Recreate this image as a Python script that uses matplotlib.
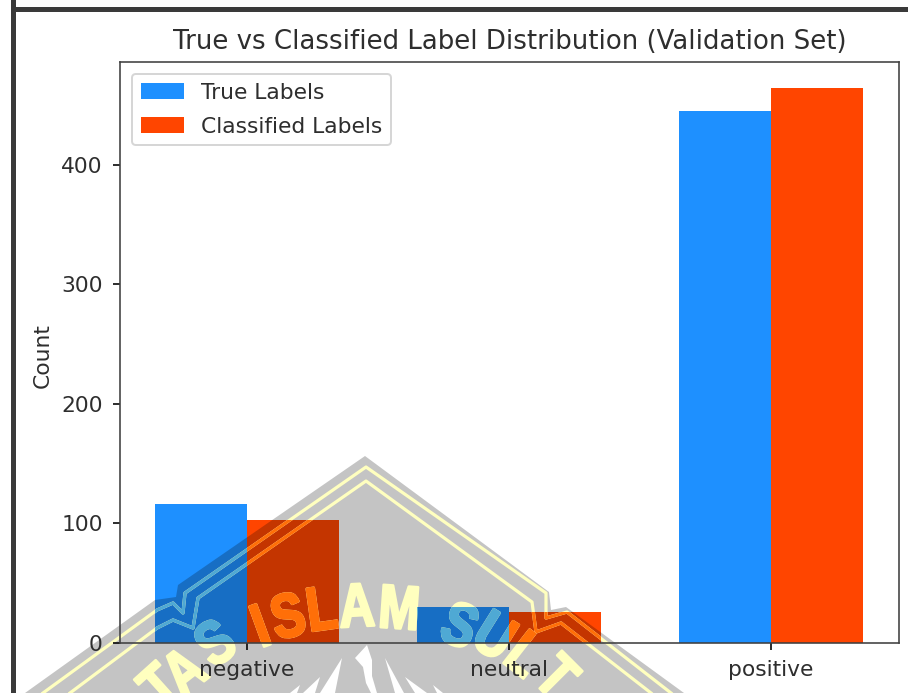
import matplotlib

matplotlib.use("Agg")

import matplotlib.patheffects as pe
import matplotlib.pyplot as plt
import numpy as np
from matplotlib.lines import Line2D
from matplotlib.patches import Polygon, Rectangle
from matplotlib.transforms import Affine2D, TransformedBbox

W, H = 908, 693

categories = ["negative", "neutral", "positive"]
true_counts = [116, 30, 445]
classified_counts = [103, 26, 464]

plt.rcParams["font.size"] = 10.85
plt.rcParams["xtick.major.pad"] = 5
plt.rcParams["ytick.major.pad"] = 5
plt.rcParams["text.color"] = "#2e2e2e"
plt.rcParams["axes.labelcolor"] = "#2e2e2e"
plt.rcParams["axes.titlecolor"] = "#2e2e2e"
plt.rcParams["xtick.labelcolor"] = "#2e2e2e"
plt.rcParams["ytick.labelcolor"] = "#2e2e2e"
plt.rcParams["axes.edgecolor"] = "#404040"

# everything outside the data axes is placed in pixels from the top left
px = Affine2D().scale(1, -1).translate(0, H)

fig = plt.figure(figsize=(W / 144, H / 144), dpi=144)
ax = fig.add_axes([120 / W, 1 - 643 / H, 779 / W, 581 / H])

x = np.arange(len(categories))
width = 0.35
bars_true = ax.bar(x - width / 2, true_counts, width, label="True Labels", color="dodgerblue")
bars_class = ax.bar(x + width / 2, classified_counts, width, label="Classified Labels", color="orangered")
ax.set_xlim(-0.485, 2.488)
ax.set_ylim(0, 486)
ax.set_title("True vs Classified Label Distribution (Validation Set)", pad=6.5)
ax.legend(loc="upper left", labelspacing=0.64, borderaxespad=0, bbox_to_anchor=(132, 74), bbox_transform=px)
ax.axis("off")

# ticks, labels and spines stay readable over the watermark, so they get their own axes on top
ax_front = fig.add_axes(ax.get_position(), sharex=ax, sharey=ax, facecolor="none", zorder=5)
ax_front.set_xticks(x)
ax_front.set_xticklabels(categories)
ax_front.set_ylabel("Count", labelpad=4.5, y=0.495)

fig.add_artist(Rectangle((11, 0), 5, H, transform=px, color="#3a3a3a", lw=0))
fig.add_artist(Rectangle((11, 7), W - 11, 5, transform=px, color="#3a3a3a", lw=0))

# watermark: grey shield
shield = [(365, 456), (178, 585), (176, 597), (155, 600), (25, 693),
          (684, 693), (566, 607), (551, 610), (549, 592)]
fig.add_artist(Polygon(shield, closed=True, transform=px, facecolor="black", alpha=0.23, lw=0))

# white flames at the bottom
flames = [
    [(367, 645), (355, 658), (363, 667), (366, 683), (371, 693), (377, 693), (372, 676), (372, 660)],
    [(342, 658), (320, 693), (335, 693)],
    [(320, 677), (303, 693), (315, 693)],
    [(300, 685), (290, 693), (297, 693)],
    [(385, 658), (395, 693), (404, 693)],
    [(405, 677), (415, 693), (427, 693)],
    [(433, 685), (437, 693), (443, 693)],
]
for flame in flames:
    fig.add_artist(Polygon(flame, closed=True, transform=px, facecolor="white", lw=0))

outline_outer = [(43, 693), (157, 610), (173, 603), (183, 613), (185, 593), (366, 467),
                 (546, 593), (546, 618), (567, 612), (671, 693)]
outline_inner = [(70, 693), (157, 628), (173, 620), (193, 628), (198, 598), (366, 481),
                 (532, 602), (536, 632), (561, 623), (651, 693)]

letters = [("T", 163, 690, 42), ("A", 187, 675, 38), ("S", 218, 647, 35),
           ("I", 262, 631, 20), ("S", 289, 621, 13), ("L", 322, 614, 8),
           ("A", 357, 611, 3), ("M", 399, 613, -4),
           ("S", 458, 630, -22), ("U", 492, 640, -32), ("L", 522, 658, -38), ("T", 553, 680, -45)]


class Squeeze(pe.AbstractPathEffect):
    # the watermark lettering is condensed and heavy, no installed font is
    def draw_path(self, renderer, gc, tpath, affine, rgbFace=None):
        box = tpath.get_extents()
        mid = (box.x0 + box.x1) / 2
        narrow = Affine2D().translate(-mid, 0).scale(0.8, 1).translate(mid, 0)
        gc0 = renderer.new_gc()
        gc0.copy_properties(gc)
        gc0.set_foreground(rgbFace)
        gc0.set_linewidth(1.2)
        renderer.draw_path(gc0, tpath, narrow + affine, rgbFace)
        gc0.restore()


def draw_yellow(color, clip=None):
    for outline in (outline_outer, outline_inner):
        xs, ys = zip(*outline)
        line = Line2D(xs, ys, transform=px, color=color, lw=1.6)
        fig.add_artist(line)
        if clip is not None:
            line.set_clip_box(clip)
            line.set_clip_on(True)
    for letter, lx, ly, rot in letters:
        t = fig.text(lx, ly, letter, transform=px, color=color, fontsize=31, fontweight="bold",
                     family="Liberation Sans", rotation=rot, rotation_mode="anchor",
                     ha="center", va="center", path_effects=[Squeeze()])
        if clip is not None:
            t.set_clip_box(clip)
            t.set_clip_on(True)


# the yellow comes out differently over the bars, so it is redrawn clipped to each bar
draw_yellow("#ffffbf")
for bar in bars_true:
    draw_yellow("#4fa9d4", TransformedBbox(bar.get_bbox(), ax.transData))
for bar in bars_class:
    draw_yellow("#ff6f08", TransformedBbox(bar.get_bbox(), ax.transData))

fig.savefig("out.png", dpi=144)
